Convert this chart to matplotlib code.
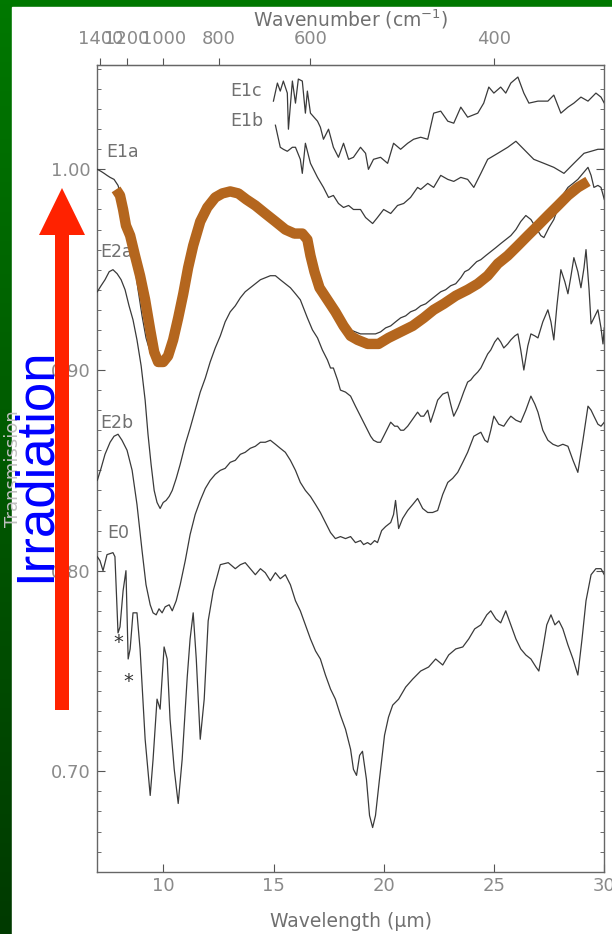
import numpy as np
import matplotlib.pyplot as plt
from matplotlib.colors import LinearSegmentedColormap
from matplotlib.patches import Polygon, Rectangle
from matplotlib.ticker import MultipleLocator, NullLocator

# spectra, columns: wavelength (um), transmission
e1c = np.array([
    (14.99, 1.034), (15.17, 1.043), (15.30, 1.039), (15.44, 1.044), (15.62, 1.038),
    (15.67, 1.020), (15.85, 1.044), (15.99, 1.033), (16.12, 1.045), (16.30, 1.044),
    (16.44, 1.028), (16.53, 1.039), (16.67, 1.028), (16.99, 1.024), (17.12, 1.021),
    (17.26, 1.015), (17.49, 1.020), (17.71, 1.011), (17.94, 1.006), (18.17, 1.013),
    (18.40, 1.005), (18.62, 1.006), (18.94, 1.011), (19.17, 1.008), (19.30, 1.000),
    (19.53, 1.005), (19.85, 1.006), (20.17, 1.003), (20.44, 1.013), (20.76, 1.010),
    (21.08, 1.013), (21.35, 1.015), (21.67, 1.016), (21.99, 1.015), (22.26, 1.028),
    (22.58, 1.029), (22.90, 1.024), (23.17, 1.023), (23.49, 1.031), (23.80, 1.026),
    (24.26, 1.028), (24.53, 1.033), (24.76, 1.041), (24.99, 1.038), (25.30, 1.041),
    (25.53, 1.038), (25.76, 1.043), (26.08, 1.046), (26.35, 1.038), (26.58, 1.033),
    (26.99, 1.034), (27.44, 1.034), (27.71, 1.037), (28.03, 1.028), (28.35, 1.031),
    (28.62, 1.033), (28.94, 1.036), (29.26, 1.034), (29.62, 1.038), (29.85, 1.036),
    (30.00, 1.033),
])

e1b = np.array([
    (15.08, 1.022), (15.30, 1.011), (15.44, 1.010), (15.62, 1.009), (15.85, 1.011),
    (15.99, 1.011), (16.21, 1.005), (16.30, 0.998), (16.44, 1.013), (16.67, 1.003),
    (16.99, 0.996), (17.26, 0.991), (17.49, 0.986), (17.71, 0.987), (17.94, 0.983),
    (18.17, 0.981), (18.40, 0.982), (18.62, 0.980), (18.94, 0.980), (19.17, 0.976),
    (19.49, 0.973), (19.71, 0.976), (19.99, 0.980), (20.31, 0.978), (20.62, 0.982),
    (20.90, 0.983), (21.21, 0.986), (21.53, 0.991), (21.67, 0.990), (21.99, 0.993),
    (22.26, 0.991), (22.58, 0.997), (22.90, 0.995), (23.17, 0.994), (23.49, 0.996),
    (23.80, 0.995), (24.08, 0.991), (24.40, 0.998), (24.71, 1.005), (25.17, 1.008),
    (25.62, 1.011), (25.99, 1.014), (26.35, 1.010), (26.80, 1.005), (27.26, 1.003),
    (27.71, 1.001), (28.17, 0.998), (28.62, 1.003), (29.08, 1.008), (29.40, 1.009),
    (29.71, 1.010), (30.00, 1.010),
])

e1a = np.array([
    (7.00, 1.000), (7.17, 0.999), (7.31, 0.998), (7.44, 0.997), (7.58, 0.996),
    (7.76, 0.995), (7.94, 0.992), (8.12, 0.985), (8.30, 0.976), (8.49, 0.966),
    (8.67, 0.954), (8.85, 0.940), (9.03, 0.927), (9.21, 0.916), (9.40, 0.909),
    (9.58, 0.904), (9.76, 0.903), (9.94, 0.905), (10.12, 0.909), (10.30, 0.916),
    (10.53, 0.927), (10.76, 0.940), (10.99, 0.952), (11.21, 0.962), (11.44, 0.971),
    (11.67, 0.977), (11.90, 0.982), (12.12, 0.985), (12.35, 0.987), (12.58, 0.989),
    (12.80, 0.990), (13.03, 0.990), (13.26, 0.990), (13.49, 0.988), (13.71, 0.987),
    (13.94, 0.985), (14.17, 0.983), (14.40, 0.981), (14.62, 0.979), (14.85, 0.976),
    (15.08, 0.974), (15.30, 0.972), (15.53, 0.970), (15.76, 0.969), (15.99, 0.969),
    (16.21, 0.968), (16.40, 0.965), (16.53, 0.959), (16.71, 0.951), (16.90, 0.944),
    (17.12, 0.939), (17.35, 0.934), (17.58, 0.930), (17.80, 0.927), (18.03, 0.924),
    (18.26, 0.922), (18.49, 0.920), (18.71, 0.919), (18.94, 0.918), (19.17, 0.918),
    (19.40, 0.918), (19.62, 0.918), (19.85, 0.919), (20.08, 0.921), (20.31, 0.922),
    (20.53, 0.924), (20.76, 0.926), (20.99, 0.927), (21.21, 0.929), (21.44, 0.930),
    (21.67, 0.932), (21.90, 0.933), (22.12, 0.935), (22.35, 0.937), (22.58, 0.939),
    (22.80, 0.940), (23.03, 0.942), (23.26, 0.943), (23.49, 0.946), (23.67, 0.949),
    (23.85, 0.950), (24.03, 0.952), (24.21, 0.954), (24.40, 0.955), (24.62, 0.957),
    (24.85, 0.959), (25.08, 0.961), (25.30, 0.963), (25.53, 0.965), (25.76, 0.967),
    (25.99, 0.970), (26.21, 0.974), (26.44, 0.977), (26.67, 0.975), (26.90, 0.971),
    (27.12, 0.967), (27.26, 0.966), (27.49, 0.971), (27.71, 0.975), (27.94, 0.982),
    (28.17, 0.988), (28.35, 0.991), (28.58, 0.993), (28.80, 0.995), (29.03, 0.998),
    (29.26, 1.001), (29.40, 0.997), (29.53, 0.991), (29.71, 0.992), (29.85, 0.991),
    (30.00, 0.985),
])

e2a = np.array([
    (7.00, 0.939), (7.17, 0.942), (7.35, 0.945), (7.54, 0.949), (7.71, 0.950),
    (7.90, 0.948), (8.08, 0.945), (8.26, 0.940), (8.44, 0.932), (8.62, 0.925),
    (8.80, 0.915), (8.99, 0.902), (9.17, 0.885), (9.30, 0.868), (9.44, 0.853),
    (9.58, 0.840), (9.71, 0.834), (9.85, 0.831), (9.99, 0.834), (10.12, 0.835),
    (10.26, 0.837), (10.40, 0.840), (10.58, 0.846), (10.76, 0.853), (10.99, 0.863),
    (11.21, 0.871), (11.44, 0.880), (11.67, 0.889), (11.90, 0.896), (12.12, 0.904),
    (12.35, 0.911), (12.58, 0.917), (12.80, 0.924), (13.03, 0.929), (13.26, 0.932),
    (13.49, 0.936), (13.71, 0.939), (13.94, 0.941), (14.17, 0.943), (14.40, 0.945),
    (14.62, 0.946), (14.85, 0.947), (15.08, 0.947), (15.30, 0.945), (15.53, 0.943),
    (15.76, 0.941), (15.99, 0.938), (16.21, 0.935), (16.35, 0.931), (16.53, 0.926),
    (16.76, 0.920), (16.99, 0.916), (17.21, 0.910), (17.44, 0.905), (17.58, 0.901),
    (17.71, 0.901), (17.90, 0.895), (18.03, 0.890), (18.26, 0.889), (18.49, 0.887),
    (18.71, 0.882), (18.94, 0.877), (19.12, 0.873), (19.26, 0.870), (19.40, 0.867),
    (19.53, 0.865), (19.71, 0.864), (19.85, 0.864), (19.99, 0.867), (20.17, 0.871),
    (20.31, 0.874), (20.49, 0.872), (20.62, 0.872), (20.76, 0.870), (20.90, 0.870),
    (21.08, 0.872), (21.21, 0.874), (21.40, 0.877), (21.53, 0.879), (21.67, 0.877),
    (21.81, 0.877), (21.99, 0.880), (22.12, 0.874), (22.30, 0.880), (22.44, 0.885),
    (22.67, 0.888), (22.90, 0.889), (23.03, 0.883), (23.17, 0.877), (23.35, 0.881),
    (23.49, 0.885), (23.62, 0.889), (23.80, 0.894), (23.94, 0.895), (24.08, 0.897),
    (24.26, 0.899), (24.40, 0.901), (24.58, 0.905), (24.71, 0.908), (24.85, 0.910),
    (25.03, 0.914), (25.17, 0.916), (25.30, 0.914), (25.44, 0.911), (25.62, 0.913),
    (25.76, 0.915), (25.94, 0.917), (26.08, 0.918), (26.21, 0.910), (26.35, 0.900),
    (26.53, 0.912), (26.67, 0.918), (26.85, 0.917), (26.99, 0.916), (27.21, 0.924),
    (27.44, 0.930), (27.58, 0.924), (27.71, 0.915), (27.85, 0.932), (28.03, 0.950),
    (28.21, 0.944), (28.35, 0.938), (28.49, 0.947), (28.62, 0.956), (28.80, 0.949),
    (28.94, 0.941), (29.08, 0.951), (29.17, 0.960), (29.31, 0.940), (29.40, 0.923),
    (29.58, 0.927), (29.71, 0.930), (29.85, 0.921), (29.94, 0.913), (30.00, 0.921),
])

e2b = np.array([
    (7.00, 0.845), (7.17, 0.851), (7.35, 0.858), (7.58, 0.864), (7.76, 0.867),
    (7.94, 0.868), (8.12, 0.865), (8.35, 0.860), (8.58, 0.850), (8.80, 0.833),
    (9.03, 0.810), (9.21, 0.793), (9.40, 0.783), (9.53, 0.779), (9.67, 0.778),
    (9.80, 0.781), (9.94, 0.779), (10.08, 0.782), (10.26, 0.783), (10.40, 0.780),
    (10.58, 0.785), (10.76, 0.793), (10.99, 0.805), (11.21, 0.818), (11.44, 0.828),
    (11.67, 0.835), (11.90, 0.841), (12.12, 0.845), (12.35, 0.848), (12.58, 0.850),
    (12.80, 0.851), (13.03, 0.854), (13.26, 0.855), (13.49, 0.858), (13.71, 0.859),
    (13.94, 0.861), (14.17, 0.862), (14.40, 0.864), (14.62, 0.864), (14.85, 0.865),
    (15.08, 0.863), (15.30, 0.861), (15.53, 0.859), (15.76, 0.855), (15.99, 0.850),
    (16.21, 0.844), (16.44, 0.840), (16.67, 0.837), (16.90, 0.833), (17.12, 0.829),
    (17.35, 0.824), (17.58, 0.819), (17.80, 0.816), (18.03, 0.817), (18.26, 0.816),
    (18.49, 0.817), (18.71, 0.814), (18.94, 0.815), (19.08, 0.813), (19.26, 0.814),
    (19.40, 0.813), (19.58, 0.815), (19.71, 0.814), (19.90, 0.820), (20.08, 0.822),
    (20.31, 0.824), (20.44, 0.828), (20.53, 0.835), (20.67, 0.821), (20.85, 0.826),
    (21.08, 0.830), (21.31, 0.833), (21.53, 0.836), (21.76, 0.831), (21.99, 0.829),
    (22.21, 0.829), (22.44, 0.830), (22.67, 0.838), (22.90, 0.844), (23.12, 0.846),
    (23.35, 0.849), (23.58, 0.854), (23.80, 0.859), (24.08, 0.867), (24.40, 0.869),
    (24.58, 0.865), (24.71, 0.864), (24.85, 0.870), (24.99, 0.877), (25.21, 0.873),
    (25.44, 0.872), (25.62, 0.875), (25.76, 0.877), (25.99, 0.875), (26.21, 0.874),
    (26.44, 0.880), (26.67, 0.887), (26.85, 0.883), (26.99, 0.879), (27.21, 0.870),
    (27.44, 0.865), (27.67, 0.863), (27.90, 0.862), (28.12, 0.863), (28.35, 0.862),
    (28.58, 0.855), (28.80, 0.849), (29.03, 0.865), (29.26, 0.882), (29.40, 0.880),
    (29.53, 0.877), (29.71, 0.873), (29.85, 0.872), (30.00, 0.874),
])

e0 = np.array([
    (7.00, 0.807), (7.12, 0.805), (7.26, 0.800), (7.44, 0.808), (7.71, 0.809),
    (7.80, 0.807), (7.94, 0.769), (8.03, 0.772), (8.17, 0.790), (8.30, 0.800),
    (8.40, 0.756), (8.49, 0.761), (8.62, 0.779), (8.80, 0.779), (8.94, 0.761),
    (9.17, 0.716), (9.40, 0.688), (9.53, 0.706), (9.71, 0.736), (9.85, 0.731),
    (10.03, 0.762), (10.17, 0.756), (10.30, 0.726), (10.49, 0.701), (10.67, 0.684),
    (10.85, 0.706), (11.08, 0.747), (11.21, 0.766), (11.35, 0.779), (11.49, 0.756),
    (11.67, 0.716), (11.85, 0.736), (12.03, 0.775), (12.26, 0.790), (12.58, 0.803),
    (12.94, 0.804), (13.26, 0.801), (13.49, 0.803), (13.71, 0.804), (13.94, 0.801),
    (14.17, 0.798), (14.40, 0.801), (14.62, 0.799), (14.85, 0.795), (15.08, 0.799),
    (15.30, 0.796), (15.53, 0.798), (15.76, 0.793), (15.99, 0.785), (16.21, 0.780),
    (16.44, 0.773), (16.67, 0.766), (16.90, 0.760), (17.12, 0.756), (17.35, 0.748),
    (17.58, 0.741), (17.80, 0.736), (18.03, 0.728), (18.26, 0.721), (18.49, 0.711),
    (18.62, 0.701), (18.76, 0.698), (18.90, 0.708), (19.03, 0.710), (19.21, 0.696),
    (19.35, 0.678), (19.49, 0.672), (19.62, 0.678), (19.80, 0.696), (20.03, 0.718),
    (20.21, 0.727), (20.40, 0.733), (20.67, 0.736), (20.99, 0.742), (21.31, 0.746),
    (21.67, 0.750), (22.03, 0.752), (22.35, 0.756), (22.67, 0.753), (22.94, 0.758),
    (23.26, 0.761), (23.58, 0.762), (23.85, 0.766), (24.12, 0.771), (24.40, 0.773),
    (24.67, 0.778), (24.85, 0.780), (25.08, 0.776), (25.30, 0.774), (25.53, 0.780),
    (25.76, 0.773), (25.99, 0.766), (26.21, 0.761), (26.44, 0.758), (26.67, 0.756),
    (26.90, 0.752), (27.03, 0.750), (27.21, 0.761), (27.39, 0.773), (27.58, 0.778),
    (27.76, 0.773), (27.94, 0.775), (28.12, 0.771), (28.35, 0.763), (28.58, 0.756),
    (28.80, 0.748), (28.99, 0.766), (29.17, 0.785), (29.40, 0.798), (29.62, 0.801),
    (29.85, 0.801), (30.00, 0.798),
])

# hand-drawn orange trend line over E1a
trend = np.array([
    (7.85, 0.990), (8.03, 0.987), (8.17, 0.980), (8.30, 0.972), (8.49, 0.967),
    (8.71, 0.957), (8.94, 0.947), (9.17, 0.935), (9.40, 0.920), (9.58, 0.909),
    (9.76, 0.904), (9.99, 0.904), (10.21, 0.907), (10.44, 0.915), (10.67, 0.926),
    (10.90, 0.938), (11.12, 0.951), (11.35, 0.962), (11.67, 0.974), (11.99, 0.981),
    (12.35, 0.986), (12.67, 0.988), (13.03, 0.989), (13.40, 0.988), (13.76, 0.985),
    (14.17, 0.982), (14.62, 0.978), (15.08, 0.974), (15.53, 0.970), (15.94, 0.968),
    (16.30, 0.968), (16.53, 0.965), (16.67, 0.957), (16.85, 0.949), (17.08, 0.941),
    (17.44, 0.935), (17.80, 0.929), (18.17, 0.922), (18.49, 0.917), (18.81, 0.915),
    (19.26, 0.913), (19.76, 0.913), (20.21, 0.916), (20.76, 0.919), (21.31, 0.922),
    (21.81, 0.926), (22.26, 0.930), (22.72, 0.933), (23.26, 0.937), (23.80, 0.940),
    (24.26, 0.943), (24.71, 0.947), (25.17, 0.953), (25.62, 0.957), (26.08, 0.962),
    (26.53, 0.967), (26.99, 0.972), (27.44, 0.977), (27.90, 0.982), (28.35, 0.987),
    (28.80, 0.991), (29.26, 0.994),
])

curve_labels = ['E1c', 'E1b', 'E1a', 'E2a', 'E2b', 'E0']
label_wl = [13.03, 13.03, 7.42, 7.12, 7.12, 7.43]
label_tr = [1.039, 1.024, 1.0085, 0.959, 0.8735, 0.8188]
star_wl = [7.94, 8.40]
star_tr = [0.764, 0.745]

wn_ticks = [1400, 1200, 1000, 800, 600, 400]
wl_ticks = [10, 15, 20, 25, 30]
tr_ticks = [0.70, 0.80, 0.90, 1.00]

W, H = 612, 934
fig = plt.figure(figsize=(W / 100, H / 100), dpi=100)

# green slide background with white panel
bg = fig.add_axes([0, 0, 1, 1], zorder=-10)
grad = np.linspace(0, 1, 256).reshape(-1, 1)
cmap = LinearSegmentedColormap.from_list('slide', ['#007800', '#003a00'])
bg.imshow(grad, aspect='auto', cmap=cmap, extent=[0, W, H, 0])
bg.add_patch(Rectangle((12, 7), W, H, color='white'))
bg.set_xlim(0, W)
bg.set_ylim(H, 0)
bg.set_axis_off()

ax = fig.add_axes([97.3 / W, 1 - 871.7 / H, 507 / W, 806.7 / H])
line_col = '#3a3a3a'
for spec in [e1c, e1b, e1a, e2a, e2b, e0]:
    ax.plot(spec[:, 0], spec[:, 1], color=line_col, lw=0.9, zorder=3)
ax.plot(trend[:, 0], trend[:, 1], color='#b4661e', lw=7.5,
        solid_capstyle='butt', solid_joinstyle='round', zorder=5)

for txt, x, y in zip(curve_labels, label_wl, label_tr):
    ax.text(x, y, txt, fontsize=12.5, color='#707070', ha='left', va='center', zorder=2)
for x, y in zip(star_wl, star_tr):
    ax.text(x, y, '*', fontsize=14, color='#333333', ha='center', va='center', zorder=4)

ax.set_xlim(7, 30)
ax.set_ylim(0.65, 1.052)
ax.set_xticks(wl_ticks)
ax.xaxis.set_minor_locator(NullLocator())
ax.set_yticks(tr_ticks)
ax.set_yticklabels([f'{t:.2f}' for t in tr_ticks])
ax.yaxis.set_minor_locator(MultipleLocator(0.01))
ax.tick_params(which='both', direction='in', color='#555555', labelcolor='#8a8a8a',
               labelsize=13, top=False, right=True)
ax.tick_params(axis='x', which='major', length=6, pad=4)
ax.tick_params(axis='y', which='major', length=6, pad=5)
ax.tick_params(axis='y', which='minor', length=3)
for sp in ax.spines.values():
    sp.set_color('#666666')
    sp.set_linewidth(1.0)
ax.set_xlabel('Wavelength (μm)', fontsize=13.5, color='#707070', labelpad=12)
ax.set_ylabel('Transmission', fontsize=13, color='#c0c0c0')
ax.yaxis.set_label_coords(-0.1485, 0.5)


def inv(x):
    x = np.asarray(x, dtype=float)
    with np.errstate(divide='ignore'):
        return 1e4 / x


sec = ax.secondary_xaxis('top', functions=(inv, inv))
sec.set_xticks(wn_ticks)
sec.set_xticklabels([str(t) for t in wn_ticks])
sec.xaxis.set_minor_locator(NullLocator())
sec.tick_params(direction='out', length=5, color='#555555', labelcolor='#8a8a8a',
                labelsize=13, pad=7)
sec.spines['top'].set_color('#666666')
sec.set_xlabel('Wavenumber (cm$^{-1}$)', fontsize=13.5, color='#707070', labelpad=3)

# red arrow and label drawn over the axis labels
ov = fig.add_axes([0, 0, 1, 1], zorder=10)
ov.set_xlim(0, W)
ov.set_ylim(H, 0)
ov.set_axis_off()
ov.patch.set_visible(False)
ov.add_patch(Polygon([(55, 710), (69, 710), (69, 235), (85, 235), (62, 188),
                      (39, 235), (55, 235)], closed=True, color='#ff2200', lw=0))
ov.text(50, 465, 'Irradiation', rotation=90, rotation_mode='anchor',
        ha='center', va='baseline', fontsize=38, color='#0000ff',
        family='Liberation Sans')

fig.savefig('out.png', dpi=100)
